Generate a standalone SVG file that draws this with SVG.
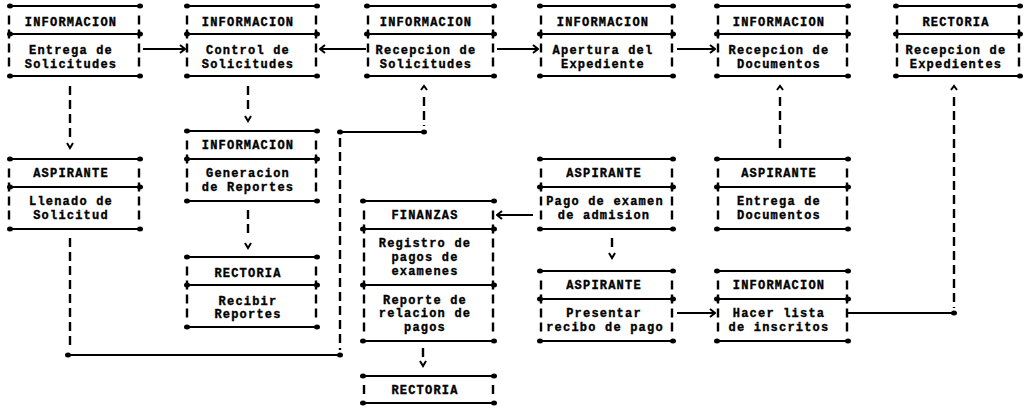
<svg xmlns="http://www.w3.org/2000/svg" width="1025" height="418" viewBox="0 0 1025 418">
<defs>
<marker id="dot" markerUnits="userSpaceOnUse" viewBox="-4 -4 8 8" markerWidth="8" markerHeight="8" refX="0" refY="0" orient="auto">
<ellipse cx="0" cy="0" rx="3" ry="2.5" fill="#000"/>
</marker>
<marker id="arr" markerUnits="userSpaceOnUse" viewBox="-7 -6 8 12" markerWidth="8" markerHeight="12" refX="0" refY="0" orient="auto">
<path d="M-5,-4 L0,0 L-5,4" fill="none" stroke="#000" stroke-width="2"/>
</marker>
<style>
.ln{stroke:#000;stroke-width:2;fill:none}
.hl{marker-start:url(#dot);marker-end:url(#dot)}
.he{marker-end:url(#dot)}
.sd{stroke:#000;stroke-width:2.4;stroke-dasharray:9 5;fill:none}
.ar{stroke:#000;stroke-width:2;fill:none;marker-end:url(#arr)}
.hd{stroke:#000;stroke-width:2;fill:none}
text{font-family:"Liberation Mono","DejaVu Sans Mono",monospace;font-size:12px;font-weight:bold;letter-spacing:1.2px;text-anchor:middle;fill:#000;stroke:#000;stroke-width:0.35}
</style>
</defs>
<rect width="1025" height="418" fill="#fff"/>

<g id="n1">
<path class="ln hl" d="M10 6H140"/><path class="ln hl" d="M10 34H140"/><path class="ln hl" d="M10 76H140"/>
<line class="sd" x1="9" y1="15.5" x2="9" y2="67"/><line class="sd" x1="139" y1="15.5" x2="139" y2="67"/>
<text x="71" y="26">INFORMACION</text><text x="71" y="54">Entrega de</text><text x="71" y="68">Solicitudes</text>
</g>
<g id="n2">
<path class="ln hl" d="M187 6H317"/><path class="ln hl" d="M187 34H317"/><path class="ln hl" d="M187 76H317"/>
<line class="sd" x1="187" y1="15.5" x2="187" y2="67"/><line class="sd" x1="316" y1="15.5" x2="316" y2="67"/>
<text x="248" y="26">INFORMACION</text><text x="248" y="54">Control de</text><text x="248" y="68">Solicitudes</text>
</g>
<g id="n3">
<path class="ln hl" d="M367 6H494"/><path class="ln hl" d="M367 34H494"/><path class="ln hl" d="M367 76H494"/>
<line class="sd" x1="368" y1="15.5" x2="368" y2="67"/><line class="sd" x1="493" y1="15.5" x2="493" y2="67"/>
<text x="426" y="26">INFORMACION</text><text x="426" y="54">Recepcion de</text><text x="426" y="68">Solicitudes</text>
</g>
<g id="n4">
<path class="ln hl" d="M540 6H673"/><path class="ln hl" d="M540 34H673"/><path class="ln hl" d="M540 76H673"/>
<line class="sd" x1="541" y1="15.5" x2="541" y2="67"/><line class="sd" x1="672" y1="15.5" x2="672" y2="67"/>
<text x="603" y="26">INFORMACION</text><text x="603" y="54">Apertura del</text><text x="603" y="68">Expediente</text>
</g>
<g id="n5">
<path class="ln hl" d="M717 6H848"/><path class="ln hl" d="M717 34H848"/><path class="ln hl" d="M717 76H848"/>
<line class="sd" x1="718" y1="15.5" x2="718" y2="67"/><line class="sd" x1="847" y1="15.5" x2="847" y2="67"/>
<text x="779" y="26">INFORMACION</text><text x="779" y="54">Recepcion de</text><text x="779" y="68">Documentos</text>
</g>
<g id="n6">
<path class="ln hl" d="M896 6H1020"/><path class="ln hl" d="M896 34H1020"/><path class="ln hl" d="M896 76H1020"/>
<line class="sd" x1="897" y1="15.5" x2="897" y2="67"/><line class="sd" x1="1019" y1="15.5" x2="1019" y2="67"/>
<text x="956" y="26">RECTORIA</text><text x="956" y="54">Recepcion de</text><text x="956" y="68">Expedientes</text>
</g>

<g id="n7">
<path class="ln hl" d="M10 159H140"/><path class="ln hl" d="M10 187H140"/><path class="ln hl" d="M10 229H140"/>
<line class="sd" x1="9" y1="168.5" x2="9" y2="220"/><line class="sd" x1="139" y1="168.5" x2="139" y2="220"/>
<text x="71" y="177">ASPIRANTE</text><text x="71" y="205">Llenado de</text><text x="71" y="219">Solicitud</text>
</g>
<g id="n8">
<path class="ln hl" d="M187 131H317"/><path class="ln hl" d="M187 159H317"/><path class="ln hl" d="M187 201H317"/>
<line class="sd" x1="187" y1="140.5" x2="187" y2="192"/><line class="sd" x1="316" y1="140.5" x2="316" y2="192"/>
<text x="248" y="149">INFORMACION</text><text x="248" y="177">Generacion</text><text x="248" y="191">de Reportes</text>
</g>
<g id="n9">
<path class="ln hl" d="M187 257H317"/><path class="ln hl" d="M187 285H317"/><path class="ln hl" d="M187 327H317"/>
<line class="sd" x1="187" y1="266.5" x2="187" y2="318"/><line class="sd" x1="316" y1="266.5" x2="316" y2="318"/>
<text x="248" y="277">RECTORIA</text><text x="248" y="305">Recibir</text><text x="248" y="318">Reportes</text>
</g>
<g id="n10">
<path class="ln hl" d="M363 201H494"/><path class="ln hl" d="M363 229H494"/><path class="ln hl" d="M363 285H494"/><path class="ln hl" d="M363 341H494"/>
<line class="sd" x1="364" y1="210.5" x2="364" y2="332"/><line class="sd" x1="493" y1="210.5" x2="493" y2="332"/>
<text x="425" y="219">FINANZAS</text>
<text x="425" y="247">Registro de</text><text x="425" y="261">pagos de</text><text x="425" y="275">examenes</text>
<text x="425" y="304">Reporte de</text><text x="425" y="317">relacion de</text><text x="425" y="331">pagos</text>
</g>
<g id="n11">
<path class="ln hl" d="M363 376H494"/><path class="ln hl" d="M363 403H494"/>
<line class="sd" x1="364" y1="385" x2="364" y2="394"/><line class="sd" x1="493" y1="385" x2="493" y2="394"/>
<text x="425" y="394">RECTORIA</text>
</g>
<g id="n12">
<path class="ln hl" d="M540 159H673"/><path class="ln hl" d="M540 187H673"/><path class="ln hl" d="M540 229H673"/>
<line class="sd" x1="541" y1="168.5" x2="541" y2="220"/><line class="sd" x1="672" y1="168.5" x2="672" y2="220"/>
<text x="604" y="177">ASPIRANTE</text><text x="605" y="205">Pago de examen</text><text x="604" y="219">de admision</text>
</g>
<g id="n13">
<path class="ln hl" d="M540 271H673"/><path class="ln hl" d="M540 299H673"/><path class="ln hl" d="M540 341H673"/>
<line class="sd" x1="541" y1="280.5" x2="541" y2="332"/><line class="sd" x1="672" y1="280.5" x2="672" y2="332"/>
<text x="604" y="289">ASPIRANTE</text><text x="604" y="317">Presentar</text><text x="605" y="331">recibo de pago</text>
</g>
<g id="n14">
<path class="ln hl" d="M717 159H848"/><path class="ln hl" d="M717 187H848"/><path class="ln hl" d="M717 229H848"/>
<line class="sd" x1="718" y1="168.5" x2="718" y2="220"/><line class="sd" x1="847" y1="168.5" x2="847" y2="220"/>
<text x="779" y="177">ASPIRANTE</text><text x="779" y="205">Entrega de</text><text x="779" y="219">Documentos</text>
</g>
<g id="n15">
<path class="ln hl" d="M717 271H848"/><path class="ln hl" d="M717 299H848"/><path class="ln hl" d="M717 341H848"/>
<line class="sd" x1="718" y1="280.5" x2="718" y2="332"/><line class="sd" x1="847" y1="280.5" x2="847" y2="332"/>
<text x="779" y="289">INFORMACION</text><text x="779" y="317">Hacer lista</text><text x="779" y="331">de inscritos</text>
</g>

<g id="connectors">
<path class="ar" d="M143 49H185"/>
<path class="ar" d="M366 49H320"/>
<path class="ar" d="M497 49H538"/>
<path class="ar" d="M677 49H715"/>
<path class="ar" d="M533 215H497"/>
<path class="ar" d="M677 313H715"/>

<line class="sd" x1="70" y1="86" x2="70" y2="138"/>
<path class="hd" d="M67 143L70 148L73 143"/>
<line class="sd" x1="248" y1="86" x2="248" y2="112"/>
<path class="hd" d="M245 116L248 121L251 116"/>
<line class="sd" x1="248" y1="210" x2="248" y2="238"/>
<path class="hd" d="M245 243L248 248L251 243"/>
<line class="sd" x1="612" y1="238" x2="612" y2="248"/>
<path class="hd" d="M609 253L612 258L615 253"/>
<line class="sd" x1="423" y1="348" x2="423" y2="357"/>
<path class="hd" d="M420 361L423 366L426 361"/>

<line class="sd" x1="70" y1="238" x2="70" y2="350"/>
<path class="ln hl" d="M68 355H340"/>
<line class="sd" x1="340" y1="138" x2="340" y2="350"/>
<path class="ln hl" d="M340 132H424"/>
<line class="sd" x1="424" y1="97" x2="424" y2="126"/>
<path class="hd" d="M421 90L424 86L427 90"/>

<line class="sd" x1="780" y1="97" x2="780" y2="152"/>
<path class="hd" d="M777 90L780 86L783 90"/>

<path class="ln he" d="M848 313H954"/>
<line class="sd" x1="954" y1="97" x2="954" y2="308"/>
<path class="hd" d="M951 90L954 86L957 90"/>
</g>
</svg>
